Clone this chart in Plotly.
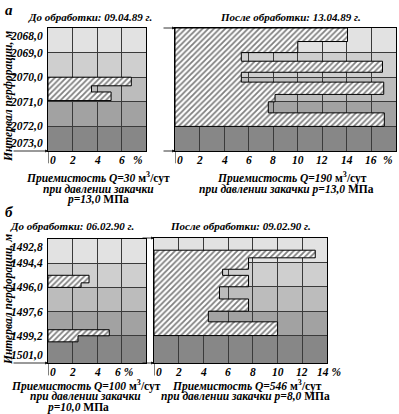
import plotly.graph_objects as go

# ---------------- DATA ----------------
# depth grid / labels
top_depths = [2068.0, 2069.0, 2070.0, 2071.0, 2072.0, 2073.0]
top_depth_labels = ["2068,0", "2069,0", "2070,0", "2071,0", "2072,0", "2073,0"]
bot_depths = [1492.8, 1494.4, 1496.0, 1497.6, 1499.2, 1501.0]
bot_depth_labels = ["1492,8", "1494,4", "1496,0", "1497,6", "1499,2", "1501,0"]

# x ticks (%)
tl_xticks = [0, 2, 4, 6, 8]
tl_xlabels = ["0", "2", "4", "6", "%"]
tr_xticks = [0, 2, 4, 6, 8, 10, 12, 14, 16, 18]
tr_xlabels = ["0", "2", "4", "6", "8", "10", "12", "14", "16", "%"]
bl_xticks = [0, 2, 4, 6]
bl_xlabels = ["0", "2", "4", "6 %"]
br_xticks = [0, 2, 4, 6, 8, 10, 12, 14]
br_xlabels = ["0", "2", "4", "6", "8", "10", "12", "14 %"]
tl_xmax, tr_xmax, bl_xmax, br_xmax = 8, 18, 8, 14

# injectivity profiles: interval boundaries (m) and share of intake (%)
tl_bounds = [2070.0, 2070.35, 2070.6, 2070.95]
tl_values = [6.8, 3.55, 5.15]
tr_bounds = [2068.0, 2068.55, 2069.0, 2069.35, 2069.8, 2070.2, 2070.7, 2071.0, 2071.45, 2072.0]
tr_values = [14.05, 10.0, 5.4, 16.9, 5.4, 17.0, 8.15, 7.6, 17.05]
bl_bar1_bounds = [1495.2, 1495.7, 1496.0]
bl_bar1_values = [3.35, 2.7]
bl_bar2_bounds = [1498.8, 1499.2, 1499.6]
bl_bar2_values = [5.0, 2.45]
br_bounds = [1493.6, 1494.1, 1494.85, 1495.25, 1496.0, 1496.8, 1497.6, 1498.3, 1499.2]
br_values = [13.05, 7.65, 5.55, 7.65, 5.3, 7.65, 4.4, 10.0]

# ---------------- STYLE ----------------
W, H = 399, 414
FONT = "Liberation Serif, Times New Roman, serif"
band_greys = ["#e2e2e2", "#cfcfcf", "#bcbcbc", "#a2a2a2", "#878787"]
GRID = "#3a3a3a"


def px(x):
    return x / W


def py(y):
    return 1 - y / H


fig = go.Figure()

panels = [
    dict(s="", xd=(48, 146), yd=(28, 151), depths=top_depths, xmax=tl_xmax,
         ticks=tl_xticks, labels=tl_xlabels, ylab=top_depth_labels, arr=-36, toparrow=False),
    dict(s="2", xd=(175, 396), yd=(28, 151), depths=top_depths, xmax=tr_xmax,
         ticks=tr_xticks, labels=tr_xlabels, ylab=None, arr=-13, toparrow=True),
    dict(s="3", xd=(48, 146), yd=(239, 363), depths=bot_depths, xmax=bl_xmax,
         ticks=bl_xticks, labels=bl_xlabels, ylab=bot_depth_labels, arr=-36, toparrow=False),
    dict(s="4", xd=(154, 327), yd=(238, 363), depths=bot_depths, xmax=br_xmax,
         ticks=br_xticks, labels=br_xlabels, ylab=None, arr=-13, toparrow=True),
]

profiles = [
    ("", tl_bounds, tl_values),
    ("2", tr_bounds, tr_values),
    ("3", bl_bar1_bounds, bl_bar1_values),
    ("3", bl_bar2_bounds, bl_bar2_values),
    ("4", br_bounds, br_values),
]

shapes = []
annotations = []
tick_font = dict(family=FONT, size=11.5, weight="bold", style="italic", color="black")

for p in panels:
    s = p["s"]
    xa, ya = "x" + s, "y" + s
    d = p["depths"]
    fig.update_layout(**{
        "xaxis" + s: dict(domain=[px(p["xd"][0]), px(p["xd"][1])], anchor=ya,
                          range=[0, p["xmax"]], tickvals=p["ticks"], showticklabels=False,
                          showgrid=True, gridcolor=GRID, gridwidth=1, zeroline=False,
                          showline=True, mirror=True, linecolor="black", linewidth=1, ticks=""),
        "yaxis" + s: dict(domain=[py(p["yd"][1]), py(p["yd"][0])], anchor=xa,
                          range=[d[-1], d[0]], tickvals=d, showticklabels=False,
                          showgrid=True, gridcolor=GRID, gridwidth=1, zeroline=False,
                          showline=True, mirror=True, linecolor="black", linewidth=1, ticks=""),
    })
    # grey layer bands
    for i in range(len(d) - 1):
        shapes.append(dict(type="rect", xref=xa + " domain", yref=ya, x0=0, x1=1,
                           y0=d[i], y1=d[i + 1], fillcolor=band_greys[i],
                           line=dict(width=0), layer="below"))
    # axis stub below plot
    shapes.append(dict(type="line", xref=xa, yref=ya + " domain", x0=0, x1=0, y0=0,
                       y1=-0.1, line=dict(color="black", width=1)))
    # x tick labels
    for v, t in zip(p["ticks"], p["labels"]):
        if v == 0:
            shift = 5
        elif t == "%":
            shift = -8
        elif "%" in t:
            shift = 2
        else:
            shift = 0
        annotations.append(dict(xref=xa, yref=ya + " domain", x=v, y=0, xanchor="center",
                                yanchor="top", yshift=-1, xshift=shift, text=t,
                                showarrow=False, font=tick_font))
    # y tick labels
    if p["ylab"]:
        n = len(d)
        for i, (v, t) in enumerate(zip(d, p["ylab"])):
            anc = "top" if i == 0 else ("bottom" if i == n - 1 else "middle")
            annotations.append(dict(xref=xa + " domain", yref=ya, x=0, y=v, xanchor="right",
                                    yanchor=anc, xshift=-3, text=t, showarrow=False,
                                    font=tick_font))
    # perforation arrows
    arrow_targets = [d[-1]] + ([d[0]] if p["toparrow"] else [])
    for v in arrow_targets:
        annotations.append(dict(xref=xa, yref=ya, x=0, y=v, ax=p["arr"], ay=0, text="",
                                showarrow=True, arrowhead=2, arrowsize=0.7,
                                arrowwidth=0.8, arrowcolor="black"))

# hatched intake profiles
for s, b, v in profiles:
    xs, ys = [0], [b[0]]
    for i, val in enumerate(v):
        xs += [val, val]
        ys += [b[i], b[i + 1]]
    xs.append(0)
    ys.append(b[-1])
    xs.append(0)
    ys.append(b[0])
    fig.add_trace(go.Scatter(x=xs, y=ys, xaxis="x" + s, yaxis="y" + s, mode="lines",
                             fill="toself", fillcolor="white",
                             fillpattern=dict(shape="/", fgcolor="black", bgcolor="white",
                                              size=4, solidity=0.45),
                             line=dict(color="black", width=1), hoverinfo="skip",
                             showlegend=False))

title_font = dict(family=FONT, size=11, weight="bold", color="black")
cap_font = dict(family=FONT, size=11.5, weight="bold", color="black")


def text(x, y, t, font, yanchor="middle", **kw):
    annotations.append(dict(xref="paper", yref="paper", x=px(x), y=py(y), text=t,
                            xanchor="center", yanchor=yanchor,
                            showarrow=False, font=font, **kw))


UNIT = "м<sup>3</sup>/сут"
MPA = "МПа"

text(9, 0, "<i>а</i>", dict(family=FONT, size=15, weight="bold", color="black"), yanchor="top")
text(9, 212, "<i>б</i>", dict(family=FONT, size=15, weight="bold", color="black"))

text(90, 17, "<i>До обработки: 09.04.89 г.</i>", title_font)
text(290, 17, "<i>После обработки: 13.04.89 г.</i>", title_font)
text(72, 226, "<i>До обработки: 06.02.90 г.</i>", title_font)
text(240, 226, "<i>После обработки: 09.02.90 г.</i>", title_font)

text(98, 177, "<i>Приемистость Q=30 </i>" + UNIT, cap_font)
text(98, 189, "<i>при давлении закачки</i>", cap_font)
text(98, 200, "<i>p=13,0 </i>" + MPA, cap_font)
text(292, 177, "<i>Приемистость Q=190 </i>" + UNIT, cap_font)
text(286, 189, "<i>при давлении закачки p=13,0 </i>" + MPA, cap_font)

text(86, 385, "<i>Приемистость Q=100 </i>" + UNIT, cap_font)
text(85, 396, "<i>при давлении закачки</i>", cap_font)
text(78, 407, "<i>p=10,0 </i>" + MPA, cap_font)
text(247, 385, "<i>Приемистость Q=546 </i>" + UNIT, cap_font)
text(245, 396, "<i>при давлении закачки p=8,0 </i>" + MPA, cap_font)

text(8, 97, "<i>Интервал перфорации, м</i>", cap_font, textangle=-90)
text(8, 300, "<i>Интервал перфорации, м</i>", cap_font, textangle=-90)

fig.update_layout(width=W, height=H, margin=dict(l=0, r=0, t=0, b=0),
                  paper_bgcolor="white", plot_bgcolor="white", showlegend=False,
                  hovermode=False, shapes=shapes, annotations=annotations)

fig.write_html("out.html", config={"displayModeBar": False},
               post_script="document.body.style.margin='0';document.body.style.overflow='hidden';")
